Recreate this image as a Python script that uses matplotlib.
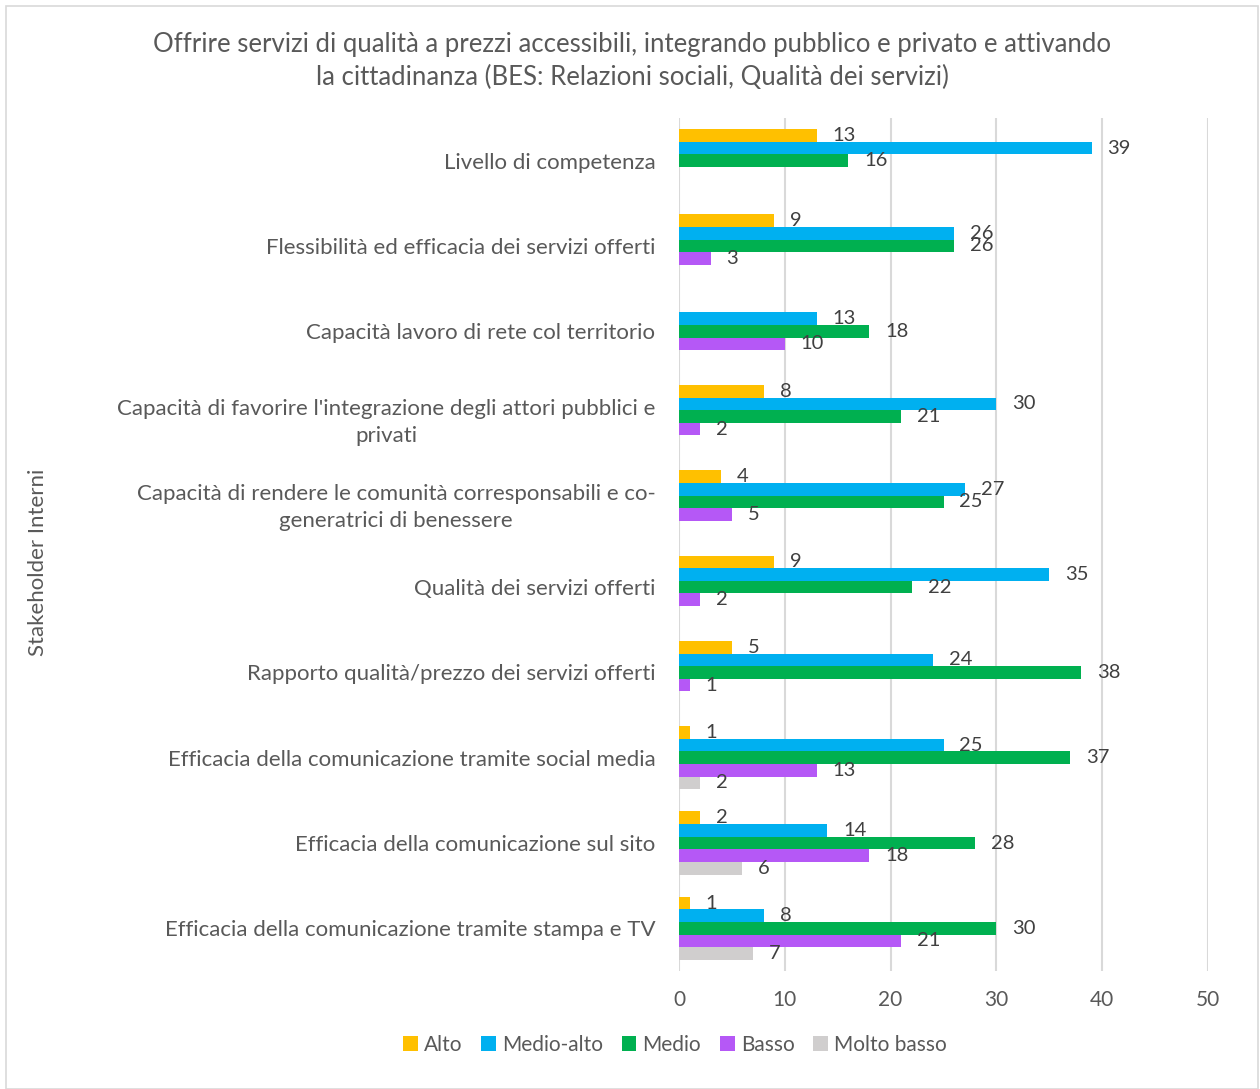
import matplotlib.pyplot as plt
import numpy as np
from matplotlib.patches import Rectangle

plt.rcParams['font.family'] = ['Lato', 'DejaVu Sans']

# categorie (dall'alto in basso)
categorie = [
    "Livello di competenza",
    "Flessibilità ed efficacia dei servizi offerti",
    "Capacità lavoro di rete col territorio",
    "Capacità di favorire l'integrazione degli attori pubblici e\nprivati",
    "Capacità di rendere le comunità corresponsabili e co-\ngeneratrici di benessere",
    "Qualità dei servizi offerti",
    "Rapporto qualità/prezzo dei servizi offerti",
    "Efficacia della comunicazione tramite social media",
    "Efficacia della comunicazione sul sito",
    "Efficacia della comunicazione tramite stampa e TV",
]

serie = ["Alto", "Medio-alto", "Medio", "Basso", "Molto basso"]
colori = ["#FFC000", "#00B0F0", "#00B050", "#B558F6", "#D0CECE"]

# None = nessun valore
alto = [13, 9, None, 8, 4, 9, 5, 1, 2, 1]
medio_alto = [39, 26, 13, 30, 27, 35, 24, 25, 14, 8]
medio = [16, 26, 18, 21, 25, 22, 38, 37, 28, 30]
basso = [None, 3, 10, 2, 5, 2, 1, 13, 18, 21]
molto_basso = [None, None, None, None, None, None, None, 2, 6, 7]
valori = [alto, medio_alto, medio, basso, molto_basso]

W, H = 1260, 1089
fig = plt.figure(figsize=(W / 100, H / 100), dpi=100)

# bordo del grafico
fig.patches.append(Rectangle((6 / W, 0), (W - 8) / W, (H - 6) / H, transform=fig.transFigure,
                             fill=False, edgecolor="#D9D9D9", linewidth=1.2))

ax = fig.add_axes([679 / W, 1 - 971 / H, (1208 - 679) / W, (971 - 118) / H])

h = 0.148
y = np.arange(len(categorie))
for k in range(len(serie)):
    vals = valori[k]
    pos = y + (k - 2) * h
    v = np.array([np.nan if a is None else a for a in vals], dtype=float)
    ax.barh(pos, v, height=h, color=colori[k], label=serie[k], zorder=3)
    for p, a in zip(pos, vals):
        if a is None:
            continue
        ax.text(a + 1.5, p, str(a), va="center", ha="left", fontsize=14.5, color="#404040")

ax.set_ylim(len(categorie) - 0.5, -0.5)
ax.set_xlim(0, 50)
ax.set_xticks(range(0, 51, 10))
ax.set_yticks(y)
ax.set_yticklabels(categorie, fontsize=16, color="#595959", multialignment="center",
                   linespacing=1.45)
ax.tick_params(axis="x", labelsize=15, colors="#595959", length=0, pad=14)
ax.tick_params(axis="y", length=0, pad=17)
ax.grid(axis="x", color="#D9D9D9", linewidth=1.5, zorder=0)
for s in ax.spines.values():
    s.set_visible(False)

fig.text(632 / W, 1 - 61 / H,
         "Offrire servizi di qualità a prezzi accessibili, integrando pubblico e privato e attivando\n"
         "la cittadinanza (BES: Relazioni sociali, Qualità dei servizi)",
         ha="center", va="center", fontsize=18.5, color="#595959", linespacing=1.38)

fig.text(38 / W, 1 - 562 / H, "Stakeholder Interni", rotation=90, ha="center", va="center",
         fontsize=16, color="#595959")

fig.legend(loc="center", bbox_to_anchor=(675 / W, 1 - 1045 / H), ncol=5, frameon=False,
           fontsize=15, labelcolor="#595959", handlelength=0.7, handleheight=0.7,
           handletextpad=0.3, columnspacing=0.9)

fig.savefig("out.png", dpi=100)
